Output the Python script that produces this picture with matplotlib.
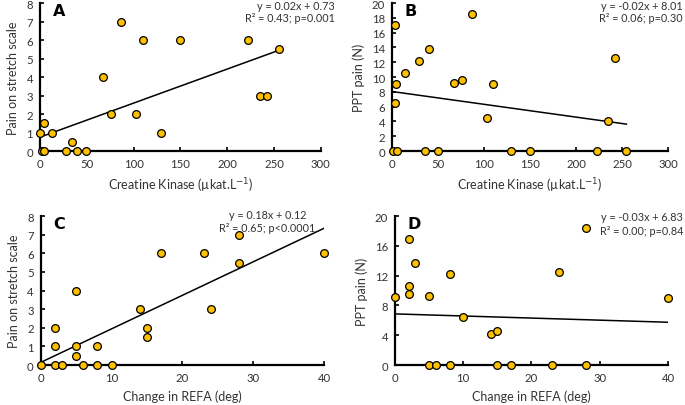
import numpy as np
import matplotlib
matplotlib.use("Agg")
import matplotlib.pyplot as plt

plt.rcParams['font.family'] = ['Lato', 'DejaVu Sans']

# panel A: creatine kinase vs pain on stretch
ck_a = [0, 4.3, 12.5, 2.5, 4, 34, 28, 39.5, 49, 67, 75.5, 86.5, 103, 110, 129, 149.6, 222, 235.5, 242.6, 255]
pain_a = [1, 1.5, 1, 0, 0, 0.5, 0, 0, 0, 4, 2, 7, 2, 6, 1, 6, 6, 3, 3, 5.5]

# panel B: creatine kinase vs PPT pain
ck_b = [3.3, 3.3, 4.7, 13.8, 29, 39.9, 67.4, 76, 87, 103.6, 109.8, 235, 242.8,
        0.7, 5.8, 35.5, 50, 129.7, 150, 222.5, 254.7]
ppt_b = [17.0, 6.5, 9.1, 10.6, 12.2, 13.75, 9.2, 9.6, 18.5, 4.5, 9.0, 4.1, 12.6,
         0, 0, 0, 0, 0, 0, 0, 0]

# panel C: change in REFA vs pain on stretch
refa_c = [0, 2, 2, 2, 3, 5, 5, 5, 6, 8, 8, 10, 14, 15, 15, 17, 23, 24, 28, 28, 40]
pain_c = [0, 2, 1, 0, 0, 4, 1, 0.5, 0, 1, 0, 0, 3, 2, 1.5, 6, 6, 3, 7, 5.5, 6]

# panel D: change in REFA vs PPT pain
refa_d = [0, 2, 2, 2, 3, 5, 8, 10, 14, 15, 24, 28, 40, 5, 6, 8, 15, 17, 23, 28]
ppt_d = [9.1, 16.95, 10.6, 9.55, 13.7, 9.25, 12.15, 6.45, 4.1, 4.5, 12.5, 18.4, 9.0,
         0, 0, 0, 0, 0, 0, 0]

# trend lines as drawn (slope, intercept)
fit_a = [0.0184, 0.75]
fit_b = [-0.0173, 8.04]
fit_c = [0.180, 0.14]
fit_d = [-0.028, 6.86]

eq_a = ["y = 0.02x + 0.73", "R\u00b2 = 0.43; p=0.001"]
eq_b = ["y = -0.02x + 8.01", "R\u00b2 = 0.06; p=0.30"]
eq_c = ["y = 0.18x + 0.12", "R\u00b2 = 0.65; p<0.0001"]
eq_d = ["y = -0.03x + 6.83", "R\u00b2 = 0.00; p=0.84"]

ck_label = "Creatine Kinase (\u00b5kat.L$^{-1}$)"
refa_label = "Change in REFA (deg)"

fig = plt.figure(figsize=(6.85, 4.06), dpi=100)
axA = fig.add_axes([0.0584, 0.6256, 0.410, 0.3645])
axB = fig.add_axes([0.5723, 0.6256, 0.403, 0.3645])
axC = fig.add_axes([0.0594, 0.0985, 0.4136, 0.367])
axD = fig.add_axes([0.5766, 0.0985, 0.3986, 0.367])


def panel(ax, x, y, fit, letter, xlab, ylab, xlim, xticks, ylim, yticks, eq, eqpos, ha):
    x = np.array(x, float)
    y = np.array(y, float)
    m, b = fit
    xs = np.array([x.min(), x.max()])
    ax.plot(xs, m * xs + b, color="black", lw=1.1, zorder=2)
    ax.scatter(x, y, s=31, facecolor="#FFC000", edgecolor="black", linewidth=0.9,
               zorder=3, clip_on=False)
    ax.set_xlim(*xlim)
    ax.set_ylim(*ylim)
    ax.set_xticks(xticks)
    ax.set_yticks(yticks)
    for s in ["top", "right"]:
        ax.spines[s].set_visible(False)
    for s in ["left", "bottom"]:
        ax.spines[s].set_linewidth(1.6)
    ax.tick_params(direction="in", length=3, width=1.2, labelsize=8.2, pad=5,
                   colors="black", labelcolor="#333333")
    ax.set_xlabel(xlab, fontsize=9, color="#333333", labelpad=5)
    ax.set_ylabel(ylab, fontsize=9, color="#333333", labelpad=5)
    ax.text(0.046, 1.0, letter, transform=ax.transAxes, fontsize=11.5, fontweight="bold",
            family="DejaVu Sans", va="top", ha="left")
    ex, ey1, ey2 = eqpos
    ax.text(ex, ey1, eq[0], transform=ax.transAxes, fontsize=7.8, ha=ha, va="center",
            color="#333333")
    ax.text(ex, ey2, eq[1], transform=ax.transAxes, fontsize=7.8, ha=ha, va="center",
            color="#333333")


panel(axA, ck_a, pain_a, fit_a, "A", ck_label, "Pain on stretch scale", (0, 300),
      range(0, 301, 50), (0, 8), range(0, 9), eq_a, (1.05, 0.986, 0.90), "right")
panel(axB, ck_b, ppt_b, fit_b, "B", ck_label, "PPT pain (N)", (0, 300),
      range(0, 301, 50), (0, 20), range(0, 21, 2), eq_b, (1.054, 0.986, 0.90), "right")
panel(axC, refa_c, pain_c, fit_c, "C", refa_label, "Pain on stretch scale", (0, 40),
      range(0, 41, 10), (0, 8), range(0, 9), eq_c, (0.80, 1.013, 0.926), "center")
panel(axD, refa_d, ppt_d, fit_d, "D", refa_label, "PPT pain (N)", (0, 40),
      range(0, 41, 10), (0, 20), range(0, 21, 4), eq_d, (1.055, 1.0, 0.90), "right")

fig.savefig("out.png", dpi=100, facecolor="white")
